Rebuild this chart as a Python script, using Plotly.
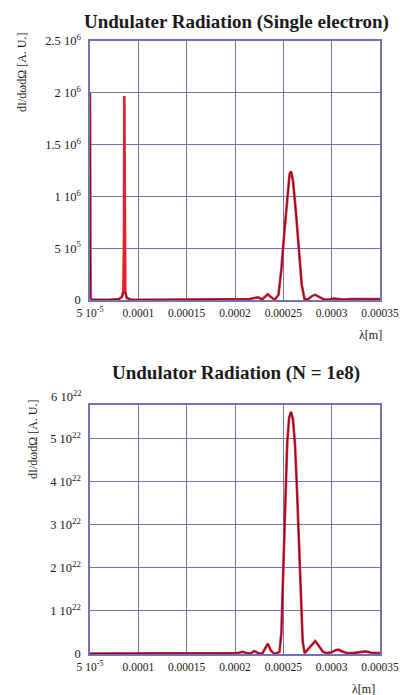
import plotly.graph_objects as go

# ---------------- data ----------------
# Top panel: single electron spectrum, units of 1e6
lam_top = [5.0e-5, 5.01e-5, 5.03e-5, 5.06e-5, 5.2e-5, 6.0e-5, 7.0e-5, 8.0e-5, 8.3e-5,
           8.45e-5, 8.52e-5, 8.55e-5, 8.58e-5, 8.65e-5, 8.8e-5, 9.2e-5, 1.0e-4,
           1.5e-4, 2.0e-4, 2.05e-4, 2.1e-4, 2.15e-4, 2.2e-4, 2.24e-4, 2.28e-4,
           2.31e-4, 2.34e-4, 2.37e-4, 2.41e-4, 2.45e-4, 2.48e-4, 2.51e-4, 2.54e-4,
           2.565e-4, 2.58e-4, 2.60e-4, 2.63e-4, 2.66e-4, 2.69e-4, 2.72e-4, 2.76e-4,
           2.80e-4, 2.83e-4, 2.87e-4, 2.92e-4, 2.97e-4, 3.02e-4, 3.07e-4, 3.13e-4,
           3.2e-4, 3.3e-4, 3.4e-4, 3.5e-4]
i_top = [2.0, 2.0, 0.3, 0.02, 0.005, 0.003, 0.003, 0.01, 0.03,
         0.08, 0.6, 1.97, 0.6, 0.08, 0.02, 0.005, 0.003,
         0.003, 0.003, 0.008, 0.004, 0.01, 0.02, 0.025, 0.005,
         0.03, 0.055, 0.03, 0.003, 0.05, 0.3, 0.65, 1.0,
         1.22, 1.24, 1.15, 0.85, 0.5, 0.15, 0.005, 0.01,
         0.04, 0.05, 0.03, 0.005, 0.005, 0.015, 0.01, 0.005,
         0.01, 0.008, 0.008, 0.008]

# Bottom panel: N = 1e8, units of 1e22
lam_bot = [5.0e-5, 1.0e-4, 1.5e-4, 1.9e-4, 2.0e-4, 2.04e-4, 2.08e-4, 2.12e-4,
           2.16e-4, 2.2e-4, 2.24e-4, 2.28e-4, 2.31e-4, 2.34e-4, 2.37e-4, 2.41e-4,
           2.46e-4, 2.48e-4, 2.50e-4, 2.52e-4, 2.54e-4, 2.56e-4, 2.58e-4, 2.60e-4,
           2.62e-4, 2.64e-4, 2.66e-4, 2.68e-4, 2.70e-4, 2.72e-4, 2.75e-4, 2.79e-4,
           2.83e-4, 2.87e-4, 2.91e-4, 2.95e-4, 3.00e-4, 3.04e-4, 3.07e-4, 3.11e-4,
           3.16e-4, 3.22e-4, 3.29e-4, 3.35e-4, 3.41e-4, 3.5e-4]
i_bot = [0.01, 0.01, 0.01, 0.02, 0.02, 0.03, 0.05, 0.02,
         0.01, 0.07, 0.02, 0.0, 0.12, 0.24, 0.08, 0.0,
         0.05, 0.5, 2.0, 3.6, 4.9, 5.5, 5.63, 5.45,
         4.9, 3.9, 2.6, 1.3, 0.3, 0.02, 0.1, 0.22,
         0.3, 0.18, 0.05, 0.02, 0.04, 0.09, 0.1, 0.06,
         0.02, 0.02, 0.05, 0.06, 0.03, 0.02]

x_tickvals = [5e-5, 1e-4, 1.5e-4, 2e-4, 2.5e-4, 3e-4, 3.5e-4]
x_ticktext = ["5 10<sup>-5</sup>", "0.0001", "0.00015", "0.0002", "0.00025", "0.0003", "0.00035"]

top_scale = 1e6
top_tickvals = [0, 0.5, 1.0, 1.5, 2.0, 2.5]
top_ticktext = ["0", "5 10<sup>5</sup>", "1 10<sup>6</sup>", "1.5 10<sup>6</sup>",
                "2 10<sup>6</sup>", "2.5 10<sup>6</sup>"]

bot_scale = 1e22
bot_tickvals = [0, 1, 2, 3, 4, 5]
bot_ticktext = ["0", "1 10<sup>22</sup>", "2 10<sup>22</sup>", "3 10<sup>22</sup>",
                "4 10<sup>22</sup>", "5 10<sup>22</sup>"]
bot_top_label = "6 10<sup>22</sup>"

title_top = "Undulater Radiation (Single electron)"
title_bot = "Undulator Radiation (N = 1e8)"
y_title = "dI/dωdΩ [A. U.]"
x_title = "λ[m]"

# ---------------- figure ----------------
W, H = 405, 695
FONT = "Liberation Serif, Times New Roman, serif"
GRID = "#7272b4"
RED = "#e8202c"
DARK = "#6a1030"
TXT = "#1a1a1a"

fig = go.Figure()

for xa, ya, lam, vals, sc in [("x", "y", lam_top, i_top, top_scale),
                              ("x2", "y2", lam_bot, i_bot, bot_scale)]:
    yv = [v * sc for v in vals]
    fig.add_trace(go.Scatter(x=lam, y=yv, xaxis=xa, yaxis=ya, mode="lines",
                             line=dict(color=RED, width=2.6), hoverinfo="skip",
                             showlegend=False, cliponaxis=False))
    # thin dark outline, left off the narrow bright-red harmonic spike
    yd = [None if (8.5e-5 <= l <= 8.6e-5) else v for l, v in zip(lam, yv)]
    fig.add_trace(go.Scatter(x=lam, y=yd, xaxis=xa, yaxis=ya, mode="lines",
                             line=dict(color=DARK, width=1), hoverinfo="skip",
                             showlegend=False, cliponaxis=False, connectgaps=False))


def px_to_paper_y(py):
    return 1 - py / H


def px_to_paper_x(px):
    return px / W


xdom = [px_to_paper_x(90), px_to_paper_x(380)]
common_x = dict(range=[5e-5, 3.5e-4], tickvals=x_tickvals, ticktext=x_ticktext,
                showgrid=True, gridcolor=GRID, gridwidth=1, showline=True,
                linecolor=GRID, linewidth=1.5, mirror=True, ticks="",
                zeroline=False, tickfont=dict(family=FONT, size=11.5, color=TXT),
                domain=xdom, ticklabelstandoff=1, automargin=False)
common_y = dict(showgrid=True, gridcolor=GRID, gridwidth=1, showline=True,
                linecolor=GRID, linewidth=1.5, mirror=True, ticks="",
                zeroline=False, tickfont=dict(family=FONT, size=12.5, color=TXT),
                ticklabelstandoff=5, automargin=False)

fig.update_layout(
    width=W, height=H, margin=dict(l=0, r=0, t=0, b=0, autoexpand=False),
    paper_bgcolor="white", plot_bgcolor="white", showlegend=False,
    xaxis=dict(common_x, anchor="y"),
    yaxis=dict(common_y, range=[0, 2.5 * top_scale],
               tickvals=[v * top_scale for v in top_tickvals], ticktext=top_ticktext,
               domain=[px_to_paper_y(300), px_to_paper_y(41)], anchor="x"),
    xaxis2=dict(common_x, anchor="y2"),
    yaxis2=dict(common_y, range=[0, 5.79 * bot_scale],
                tickvals=[v * bot_scale for v in bot_tickvals], ticktext=bot_ticktext,
                domain=[px_to_paper_y(654), px_to_paper_y(405)], anchor="x2"),
)

ann = []
tf = dict(family=FONT, size=19, color=TXT)
ann.append(dict(text="<b>%s</b>" % title_top, x=px_to_paper_x(237), y=px_to_paper_y(22),
                xref="paper", yref="paper", showarrow=False, font=tf,
                xanchor="center", yanchor="middle"))
ann.append(dict(text="<b>%s</b>" % title_bot, x=px_to_paper_x(236), y=px_to_paper_y(373),
                xref="paper", yref="paper", showarrow=False, font=tf,
                xanchor="center", yanchor="middle"))
lf = dict(family=FONT, size=12, color=TXT)
ann.append(dict(text=y_title, x=px_to_paper_x(22), y=px_to_paper_y(73),
                xref="paper", yref="paper", showarrow=False, font=lf, textangle=-90,
                xanchor="center", yanchor="middle"))
ann.append(dict(text=y_title, x=px_to_paper_x(33), y=px_to_paper_y(440),
                xref="paper", yref="paper", showarrow=False, font=lf, textangle=-90,
                xanchor="center", yanchor="middle"))
ann.append(dict(text=x_title, x=px_to_paper_x(370), y=px_to_paper_y(335),
                xref="paper", yref="paper", showarrow=False, font=lf,
                xanchor="center", yanchor="middle"))
ann.append(dict(text=x_title, x=px_to_paper_x(363), y=px_to_paper_y(689),
                xref="paper", yref="paper", showarrow=False, font=lf,
                xanchor="center", yanchor="middle"))
ann.append(dict(text=bot_top_label, x=px_to_paper_x(84), y=px_to_paper_y(396),
                xref="paper", yref="paper", showarrow=False,
                font=dict(family=FONT, size=12.5, color=TXT),
                xanchor="right", yanchor="middle"))
fig.update_layout(annotations=ann)

fig.write_html("out.html")
